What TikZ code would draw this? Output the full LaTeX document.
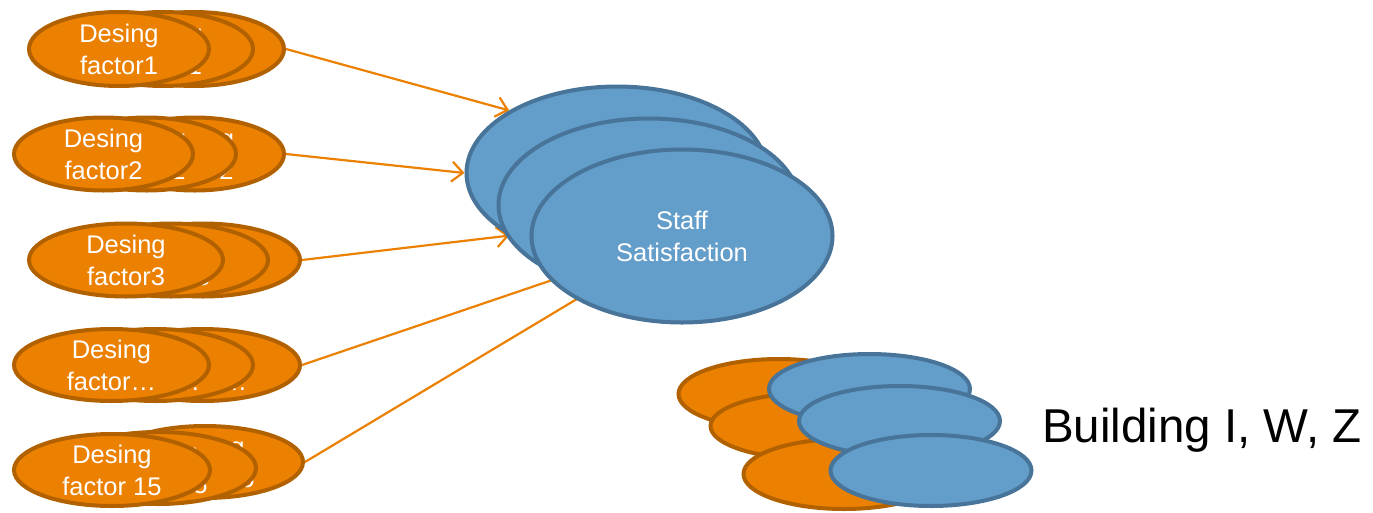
\documentclass[tikz,border=0pt]{standalone}
\usepackage{fontspec}
\setmainfont{Liberation Sans}
\usetikzlibrary{shapes.geometric,arrows.meta}
\pgfdeclarelayer{bg}
\pgfsetlayers{bg,main}
\definecolor{ofill}{RGB}{236,128,0}
\definecolor{oline}{RGB}{178,97,0}
\definecolor{bfill}{RGB}{99,157,201}
\definecolor{bline}{RGB}{71,116,152}
\tikzset{
  oell/.style={ellipse, draw=oline, fill=ofill, line width=4pt, inner sep=0pt},
  bell/.style={ellipse, draw=bline, fill=bfill, line width=4pt, inner sep=0pt},
  wtxt/.style={text=white, align=center, font=\fontsize{25.5}{32}\selectfont, inner sep=0pt},
  conn/.style={draw=ofill, line width=2.2pt, -{Straight Barb[length=11pt,width=20pt]}},
}
% #1 name, #2 front x, #3 mid x, #4 back x, #5 front y, #6 mid y, #7 back y, #8 size, #9 text
\newcommand\ostack[9]{%
  \node[oell,#8] (#1c) at (#4,#7) {};
  \node[wtxt] (#1ct) at (#1c) {#9};
  \node[oell,#8] (#1b) at (#3,#6) {};
  \node[wtxt] (#1bt) at (#1b) {#9};
  \node[oell,#8] (#1a) at (#2,#5) {};
  \node[wtxt] (#1at) at (#1a) {#9};
}
\begin{document}
\begin{tikzpicture}[x=1pt,y=-1pt]
\useasboundingbox (0,0) rectangle (1373,512);

% orange stacks
\ostack{sA}{119}{163}{194}{49}{49}{49}{minimum width=180pt,minimum height=74pt}{Desing\\factor1}
\ostack{sB}{103.5}{146.5}{194.5}{154}{154}{154}{minimum width=179pt,minimum height=73pt}{Desing\\factor2}
\ostack{sC}{126}{171}{203}{260}{260}{260}{minimum width=194pt,minimum height=73pt}{Desing\\factor3}
\ostack{sD}{111.5}{155.5}{202.5}{365}{365}{365}{minimum width=195pt,minimum height=72pt}{Desing\\factor\ldots}
\ostack{sE}{112}{158}{205}{470}{468}{462}{minimum width=196pt,minimum height=72pt}{Desing\\factor 15}

% staff satisfaction stack
\node[bell,minimum width=301pt,minimum height=173pt] (bb) at (617,173) {};
\node[bell,minimum width=301pt,minimum height=173pt] (bm) at (649,205) {};
\node[bell,minimum width=301pt,minimum height=173pt] (bf) at (682,236) {};
\node[wtxt] (bft) at (bf) {Staff\\Satisfaction};

% building group
\node[oell,minimum width=201pt,minimum height=70pt] (g1) at (779,394) {};
\node[oell,minimum width=201pt,minimum height=66pt] (g2) at (811,426) {};
\node[oell,minimum width=201pt,minimum height=70pt] (g3) at (844,474) {};
\node[bell,minimum width=201pt,minimum height=70pt] (h1) at (869.5,389) {};
\node[bell,minimum width=201pt,minimum height=70pt] (h2) at (899.5,421) {};
\node[bell,minimum width=201pt,minimum height=71pt] (h3) at (931,470.5) {};
\node[anchor=base west, inner sep=0pt, font=\fontsize{47.5}{56}\selectfont] (bld) at (1042,442) {Building I, W, Z};

% connectors
\begin{pgfonlayer}{bg}
\draw[conn] (sAc.east) -- (bb.north west);
\draw[conn] (sBc.east) -- (bb.west);
\draw[conn] (sCc.east) -- (bb.south west);
\draw[conn] (sDc.east) -- (bf.center);
\draw[conn] (sEc.east) -- (bf.center);
\end{pgfonlayer}
\end{tikzpicture}
\end{document}
